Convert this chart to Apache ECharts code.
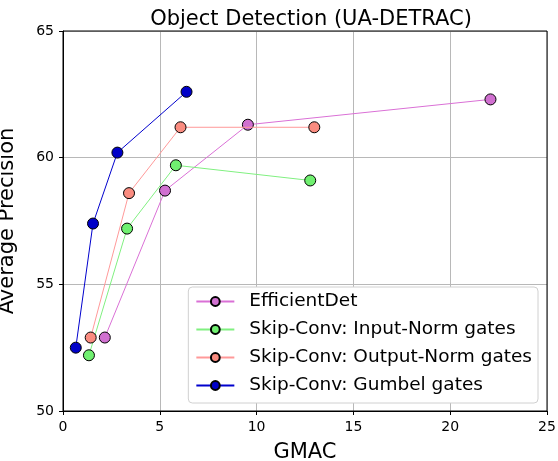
<!DOCTYPE html>
<html>
<head>
<meta charset="utf-8">
<script src="https://cdn.jsdelivr.net/npm/echarts@6/dist/echarts.min.js"></script>
<style>
  html, body { margin: 0; padding: 0; background: #fff; }
  #chart { width: 558px; height: 461px; }
</style>
</head>
<body>
<div id="chart"></div>
<script>
// data: [GMAC, AP]
var efficientDet = [[2.16, 52.9], [5.27, 58.7], [9.55, 61.3], [22.08, 62.3]];
var inputNorm = [[1.34, 52.2], [3.31, 57.2], [5.83, 59.7], [12.77, 59.1]];
var outputNorm = [[1.43, 52.9], [3.41, 58.6], [6.07, 61.2], [12.98, 61.2]];
var gumbel = [[0.66, 52.5], [1.55, 57.4], [2.81, 60.2], [6.38, 62.6]];

var seriesNames = ['EfficientDet', 'Skip-Conv: Input-Norm gates', 'Skip-Conv: Output-Norm gates', 'Skip-Conv: Gumbel gates'];
var seriesData = [efficientDet, inputNorm, outputNorm, gumbel];
var lineColors = ['#DA70D6', '#80f080', '#FF9999', '#0000CD'];
var fillColors = ['#D070D0', '#70f070', '#FA8C80', '#0000C8'];

var font = 'DejaVu Sans';

var series = [];
for (var i = 0; i < seriesNames.length; i++) {
    series.push({
        name: seriesNames[i],
        type: 'line',
        data: seriesData[i],
        symbol: 'circle',
        symbolSize: 11,
        lineStyle: { color: lineColors[i], width: 1 },
        itemStyle: { color: fillColors[i], borderColor: '#000', borderWidth: 1 },
        emphasis: { disabled: true },
        z: 2 + i
    });
}

var myChart = echarts.init(document.getElementById('chart'));
var option = {
    animation: false,
    title: {
        text: 'Object Detection (UA-DETRAC)',
        left: 306, top: 4, textAlign: 'center',
        textStyle: { fontFamily: font, fontSize: 21, fontWeight: 'normal', color: '#000' }
    },
    grid: { left: 63, right: 11, top: 31, bottom: 50, containLabel: false, outerBoundsMode: 'none' },
    legend: {
        orient: 'vertical',
        right: 20, bottom: 58,
        itemWidth: 38, itemHeight: 11, itemGap: 9,
        padding: [5, 6, 8, 7],
        backgroundColor: '#fff',
        borderColor: '#d0d0d0', borderWidth: 1, borderRadius: 4,
        textStyle: { fontFamily: font, fontSize: 18.5, color: '#000', padding: [0, 0, 0, 10] },
        data: seriesNames
    },
    xAxis: {
        type: 'value', min: 0, max: 25, interval: 5,
        name: 'GMAC', nameLocation: 'middle', nameGap: 31,
        nameTextStyle: { fontFamily: font, fontSize: 21, color: '#000' },
        axisLine: { onZero: false, lineStyle: { color: '#000', width: 1 } },
        axisTick: { show: true, length: 4, lineStyle: { color: '#000' } },
        axisLabel: { fontFamily: font, fontSize: 14, color: '#000', margin: 9 },
        splitLine: { show: true, lineStyle: { color: '#b8b8b8', width: 1 } }
    },
    yAxis: {
        type: 'value', min: 50, max: 65, interval: 5,
        name: 'Average Precision', nameLocation: 'middle', nameGap: 45,
        nameTextStyle: { fontFamily: font, fontSize: 21, color: '#000' },
        axisLine: { show: true, onZero: false, lineStyle: { color: '#000', width: 1 } },
        axisTick: { show: true, length: 4, lineStyle: { color: '#000' } },
        axisLabel: { fontFamily: font, fontSize: 14, color: '#000', margin: 9 },
        splitLine: { show: true, lineStyle: { color: '#b8b8b8', width: 1 } }
    },
    series: series
};
myChart.setOption(option);
// frame on top and right like the original
myChart.setOption({
    graphic: [{
        type: 'rect', silent: true, z: 0,
        shape: { x: 63, y: 31, width: 558 - 63 - 11, height: 461 - 31 - 50 },
        style: { fill: null, stroke: '#000', lineWidth: 1 }
    }]
});
</script>
</body>
</html>
